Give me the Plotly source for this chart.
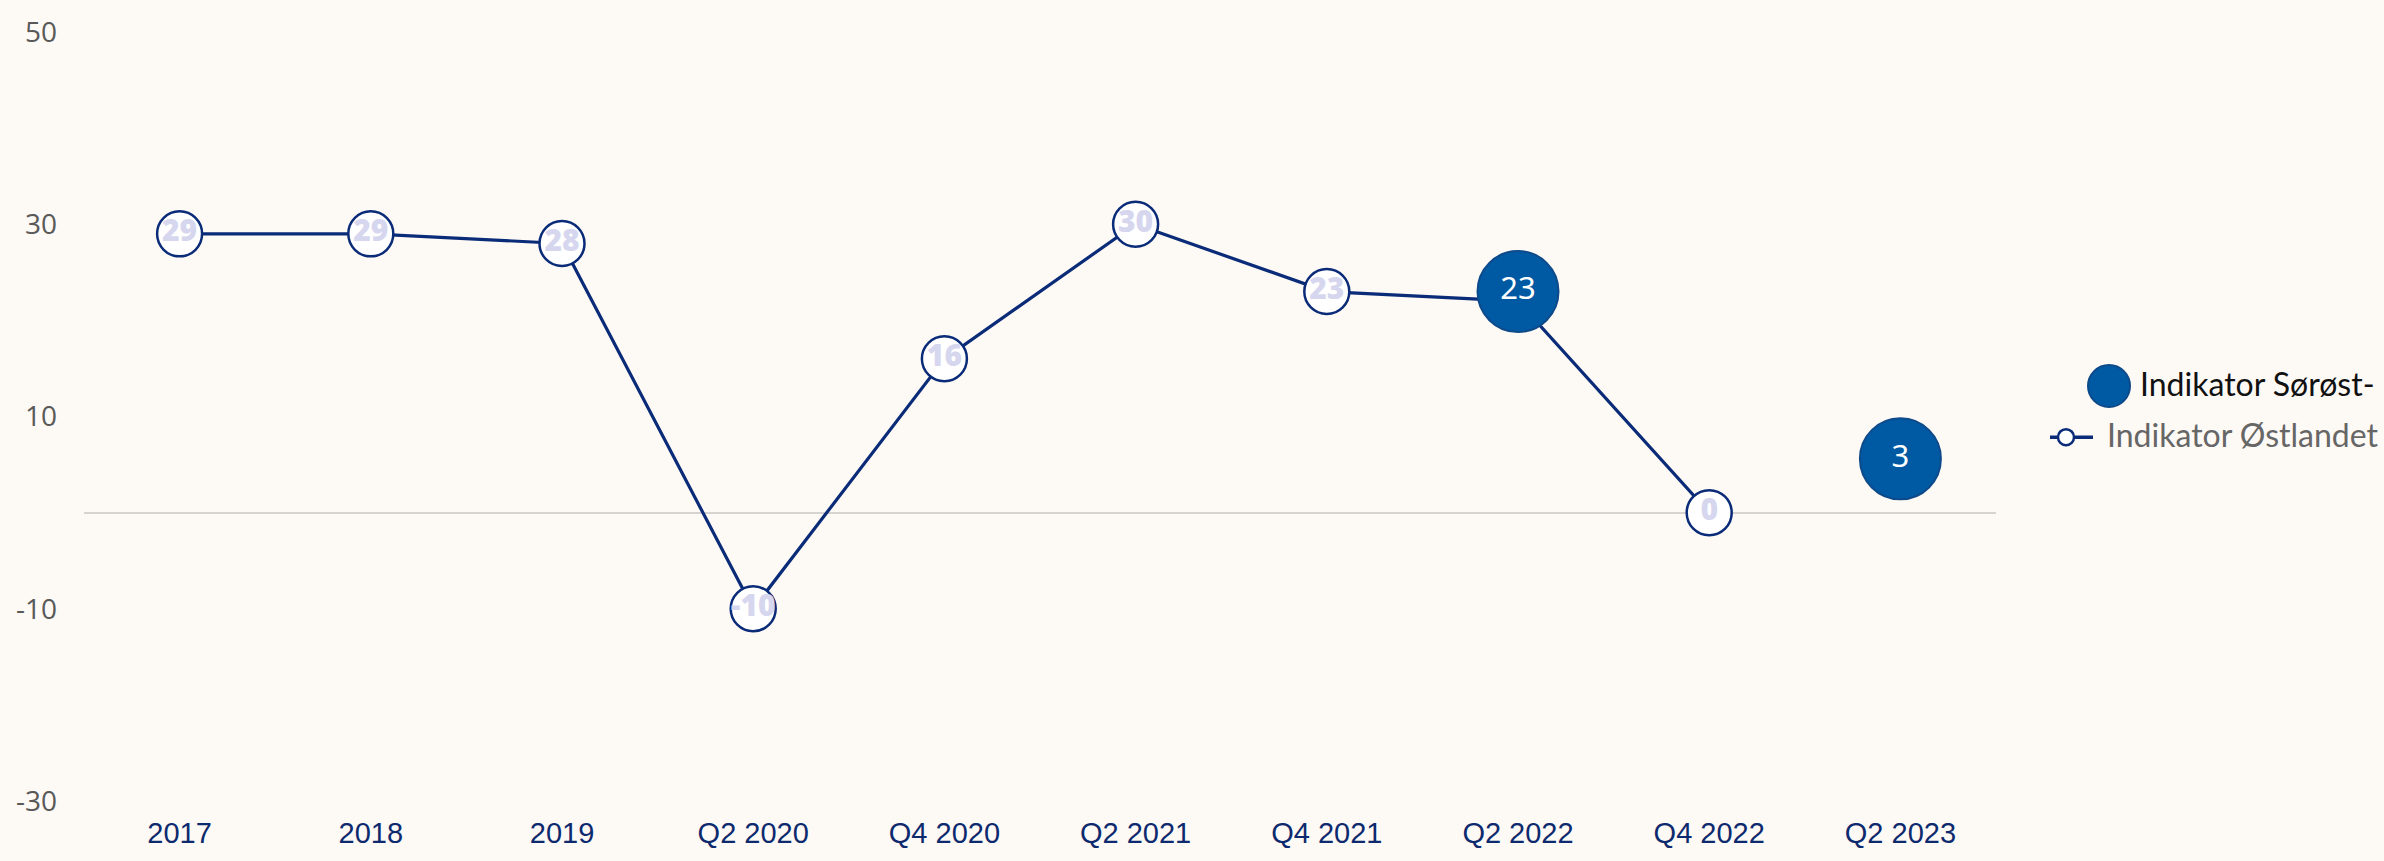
import plotly.graph_objects as go

# ---- data ----
categories = ["2017", "2018", "2019", "Q2 2020", "Q4 2020", "Q2 2021",
              "Q4 2021", "Q2 2022", "Q4 2022", "Q2 2023"]
ostlandet_values = [29, 29, 28, -10, 16, 30, 23, 22, 0, None]
sorost_categories = ["Q2 2022", "Q2 2023"]
sorost_values = [23, 5.6]
sorost_labels = ["23", "3"]
ytick_values = [-30, -10, 10, 30, 50]
ytick_labels = ["-30", "-10", "10", "30", "50"]
series_names = ["Indikator Sørøst-", "Indikator Østlandet"]

# ---- style ----
W, H = 2384, 861
ML, MR, MT, MB = 84, 388, 25, 54
BG = "#fdf9f5"
NAVY = "#0a2b78"
BUBBLE = "#0059a3"
BUBBLE_EDGE = "#0d4a8a"

ostlandet_labels = ["" if v is None else str(v) for v in ostlandet_values]

fig = go.Figure()
fig.add_trace(go.Scatter(
    x=categories, y=ostlandet_values, name=series_names[1],
    mode="lines+markers+text", text=ostlandet_labels,
    textposition="middle center",
    textfont=dict(family="Open Sans", size=30, color="#d6d7ee", weight=800),
    line=dict(color=NAVY, width=3.2),
    marker=dict(size=45, color="white", line=dict(color=NAVY, width=2.5)),
    connectgaps=False, cliponaxis=False,
))
fig.add_trace(go.Scatter(
    x=sorost_categories, y=sorost_values, name=series_names[0],
    mode="markers+text", text=sorost_labels, textposition="middle center",
    textfont=dict(family="Noto Sans", size=31, color="white"),
    marker=dict(size=81, color=BUBBLE, line=dict(color=BUBBLE_EDGE, width=2)),
    cliponaxis=False,
))

pw = W - ML - MR
ph = H - MT - MB


def px(x):
    return (x - ML) / pw


def py(y):
    return (H - MB - y) / ph


shapes = [
    dict(type="circle", xref="paper", yref="paper", xsizemode="pixel", ysizemode="pixel",
         xanchor=px(2109), yanchor=py(385), x0=-21, x1=21, y0=-21, y1=21,
         fillcolor=BUBBLE, line=dict(color=BUBBLE_EDGE, width=2)),
    dict(type="line", xref="paper", yref="paper", x0=px(2050), x1=px(2093),
         y0=py(437), y1=py(437), line=dict(color=NAVY, width=3.5)),
    dict(type="circle", xref="paper", yref="paper", xsizemode="pixel", ysizemode="pixel",
         xanchor=px(2066), yanchor=py(437), x0=-8, x1=8, y0=-8, y1=8,
         fillcolor="white", line=dict(color=NAVY, width=2.5)),
]
annotations = [
    dict(xref="paper", yref="paper", x=px(2138), y=py(382), xanchor="left", yanchor="middle",
         text=series_names[0], showarrow=False,
         font=dict(family="Lato", size=32, color="#111111")),
    dict(xref="paper", yref="paper", x=px(2105), y=py(434), xanchor="left", yanchor="middle",
         text=series_names[1], showarrow=False,
         font=dict(family="Lato", size=32, color="#666666")),
]

fig.update_layout(
    width=W, height=H, autosize=False,
    margin=dict(l=ML, r=MR, t=MT, b=MB),
    paper_bgcolor=BG, plot_bgcolor=BG,
    showlegend=False,
    shapes=shapes, annotations=annotations,
    xaxis=dict(type="category", categoryorder="array", categoryarray=categories,
               range=[-0.5, len(categories) - 0.5], showgrid=False, zeroline=False,
               showline=False, ticks="", ticklabelstandoff=12,
               tickfont=dict(family="Liberation Sans Narrow, Liberation Sans, Arial",
                             size=29, color="#0e2a6e")),
    yaxis=dict(range=[-30, 50], tickvals=ytick_values, ticktext=ytick_labels,
               showgrid=False, zeroline=True, zerolinecolor="#d6d3d0", zerolinewidth=1.5,
               showline=False, ticks="", ticklabelstandoff=26,
               tickfont=dict(family="Open Sans", size=28, color="#595959")),
)

fig.write_html(
    "out.html",
    config={"displayModeBar": False},
    post_script="document.body.style.margin='0';document.body.style.background='#fdf9f5';",
)
